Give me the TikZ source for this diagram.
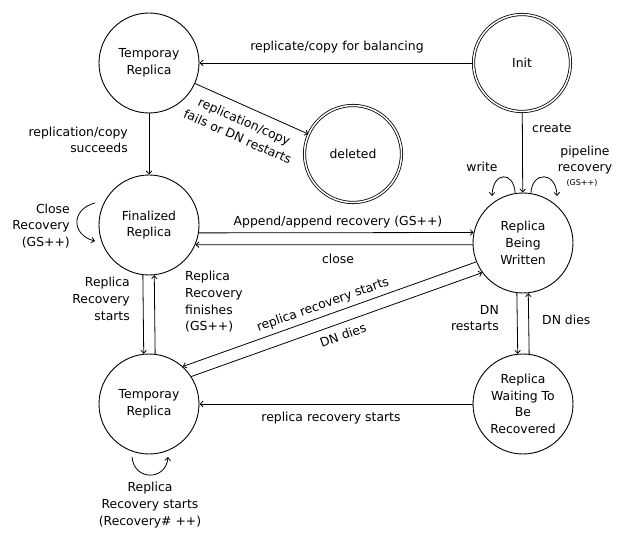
\documentclass[tikz,border=0pt]{standalone}
\usepackage{fontspec}
\setmainfont{DejaVu Sans}
\usetikzlibrary{arrows.meta,calc}
\newcommand\dgfont{\fontsize{12.4}{16.7}\selectfont}
\newcommand\dgsmall{\fontsize{8}{9}\selectfont}
\begin{document}
\begin{tikzpicture}[x=1pt,y=-1pt,
  state/.style={circle,draw,line width=0.9pt,minimum size=100pt,inner sep=0pt,align=center,font=\dgfont},
  final/.style={state,double,double distance=1.5pt,line width=0.8pt,minimum size=97pt},
  edge/.style={line width=0.8pt,-{Straight Barb[length=3pt,width=5.5pt]}},
  lbl/.style={font=\dgfont,inner sep=0pt}]
\useasboundingbox (0,0) rectangle (626,545);

% states
\node[state] (tmpT) at (149,63)  {Temporay\\Replica};
\node[final] (init) at (522,63)  {Init};
\node[final] (del)  at (353,154) {deleted};
\node[state] (fin)  at (149,225) {Finalized\\Replica};
\node[state] (bw)   at (523,243) {Replica\\Being\\Written};
\node[state] (tmpB) at (149,404) {Temporay\\Replica};
\node[state] (wait) at (523,404) {Replica\\Waiting To\\Be\\Recovered};

% transitions
\draw[edge] (init.west) -- (tmpT.east);
\node[lbl] (l1) at (337,47) {replicate/copy for balancing};

\draw[edge] (tmpT) -- (del);
\node[lbl,rotate=-24,align=center] (l2) at (241,129) {replication/copy\\fails or DN restarts};

\draw[edge] (tmpT) -- (fin);
\node[lbl,anchor=east,align=right] (l3) at (128,140) {replication/copy\\succeeds};

\draw[edge] (init) -- (bw);
\node[lbl,anchor=west] (l4) at (532,128) {create};

% self loops on the written replica
\draw[edge] (bw.99) .. controls (514,171) and (493,171) .. (492,196);
\node[lbl] (l5) at (482,167) {write};
\draw[edge] (bw.81) .. controls (532,171) and (556,171) .. (557,196);
\node[lbl,align=center] (l6) at (585,160) {pipeline\\recovery};
\node[inner sep=0pt,font=\dgsmall] (l6b) at (582,183) {(GS++)};

\draw[edge] (fin.-9.2) -- (bw.168.5);
\node[lbl] (l7) at (338,222) {Append/append recovery (GS++)};
\draw[edge] (bw.182.3) -- (fin.-23.6);
\node[lbl] (l8) at (338,259) {close};

% close recovery loop
\coordinate (crs) at (95,203);
\coordinate (cre) at (95,241);
\draw[edge] (crs) .. controls (71,209) and (71,235) .. (cre);
\node[lbl,anchor=east,align=right] (l9) at (70,226) {Close\\Recovery\\(GS++)};

\draw[edge] (fin.263.1) -- (tmpB.96.9);
\node[lbl,anchor=east,align=right] (l10) at (130,299) {Replica\\Recovery\\starts};
\draw[edge] (tmpB.83.1) -- (fin.276.9);
\node[lbl,anchor=west,align=left] (l11) at (185,302) {Replica\\Recovery\\finishes\\(GS++)};

\draw[edge] (bw.202.4) -- (tmpB.48.2);
\node[lbl,rotate=19.5] (l12) at (323,305) {replica recovery starts};
\draw[edge] (tmpB.33.1) -- (bw.216.9);
\node[lbl,rotate=19.5] (l13) at (343,335) {DN dies};

\draw[edge] (bw.263.1) -- (wait.96.9);
\node[lbl,anchor=east,align=right] (l14) at (499,318) {DN\\restarts};
\draw[edge] (wait.83.1) -- (bw.276.9);
\node[lbl,anchor=west] (l15) at (542,320) {DN dies};

\draw[edge] (wait.west) -- (tmpB.east);
\node[lbl] (l16) at (331,418) {replica recovery starts};

% recovery restart loop
\coordinate (rls) at (132,457);
\coordinate (rle) at (168,457);
\draw[edge] (rls) .. controls (134,481) and (166,481) .. (rle);
\node[lbl,align=center] (l17) at (150,505) {Replica\\Recovery starts\\(Recovery\# ++)};
\end{tikzpicture}
\end{document}
